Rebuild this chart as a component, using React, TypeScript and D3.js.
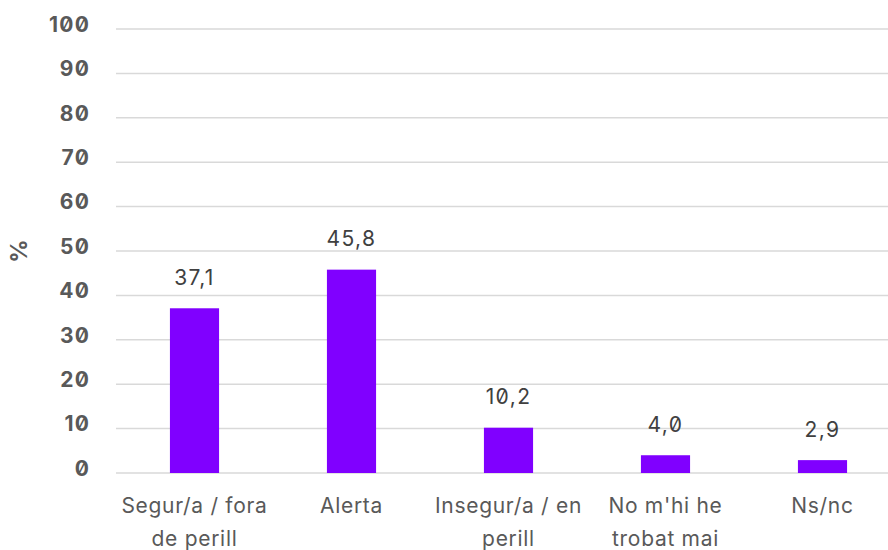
import React from "react";
import * as d3 from "d3";

const categories = [
  "Segur/a / fora\nde perill",
  "Alerta",
  "Insegur/a / en\nperill",
  "No m'hi he\ntrobat mai",
  "Ns/nc",
];
const values = [37.1, 45.8, 10.2, 4.0, 2.9];
const yTicks = [0, 10, 20, 30, 40, 50, 60, 70, 80, 90, 100];

const W = 888;
const H = 550;
const FONT = "Inter, 'Noto Sans', sans-serif";

export default function App() {
  const x = d3.scaleBand<string>().domain(categories).range([116, 901]).padding(0);
  const y = d3.scaleLinear().domain([0, 100]).range([473, 29]);
  const barW = x.bandwidth() * 0.313;
  const fmt = (v: number) => v.toFixed(1).replace(".", ",");

  return (
    <svg
      width={W}
      height={H}
      style={{ position: "absolute", left: 0, top: 0, display: "block" }}
      fontFamily={FONT}
    >
      <rect width={W} height={H} fill="#ffffff" />
      {yTicks.map((t) => (
        <g key={t}>
          <line x1={116} x2={W} y1={y(t)} y2={y(t)} stroke="#d9d9d9" strokeWidth={1.5} />
          <text
            x={90}
            y={y(t) - 3}
            textAnchor="end"
            dominantBaseline="middle"
            fontSize={21}
            fontWeight={700}
            letterSpacing={1.2}
            fill="#595959"
            style={{ fontFeatureSettings: '"zero"' }}
          >
            {t}
          </text>
        </g>
      ))}
      <text
        transform={`translate(21,251) rotate(-90)`}
        textAnchor="middle"
        dominantBaseline="middle"
        fontSize={23}
        fontWeight={700}
        fill="#595959"
      >
        %
      </text>
      {categories.map((c, i) => {
        const cx = (x(c) as number) + x.bandwidth() / 2;
        const v = values[i];
        return (
          <g key={c}>
            <rect x={cx - barW / 2} y={y(v)} width={barW} height={y(0) - y(v)} fill="#8000ff" />
            <text
              x={cx}
              y={y(v) - 29}
              textAnchor="middle"
              dominantBaseline="middle"
              fontSize={21}
              letterSpacing={1.4}
              fill="#404040"
              style={{ fontFeatureSettings: '"zero"' }}
            >
              {fmt(v)}
            </text>
            {c.split("\n").map((line, j) => (
              <text
                key={j}
                x={cx}
                y={507 + j * 33}
                textAnchor="middle"
                dominantBaseline="middle"
                fontSize={21}
                letterSpacing={0.7}
                fill="#595959"
              >
                {line}
              </text>
            ))}
          </g>
        );
      })}
    </svg>
  );
}
